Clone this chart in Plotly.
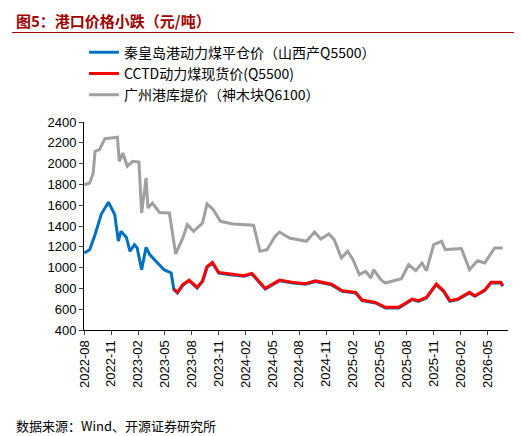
import pandas as pd
import plotly.graph_objects as go

# months since 2022-08-01, values in 元/吨
qhd_m = [0, 0.6, 1.2, 1.9, 2.7, 3.4, 3.8, 4.1, 4.7, 5.1, 5.6, 5.9, 6.4, 6.9, 7.3, 8.2, 8.9, 9.7,
         10, 10.4, 11, 11.7, 12.6, 13.2, 13.7, 14.3, 15, 16.3, 17.8, 18.7, 19.4, 20.2, 21.8, 23.3,
         24.7, 25.8, 27.6, 28.8, 30.3, 31, 32.5, 33.6, 35.1, 36.6, 37.3, 38.2, 39.3, 40.1, 40.8,
         41.7, 43, 43.6, 44.7, 45.4, 46.5, 46.7]
qhd_v = [1140, 1172, 1316, 1515, 1628, 1509, 1256, 1349, 1290, 1157, 1220, 1190, 980, 1195, 1125,
         1044, 980, 948, 788, 756, 830, 874, 804, 866, 1003, 1044, 948, 932, 916, 938, 866, 794,
         874, 852, 840, 866, 834, 772, 756, 682, 660, 612, 612, 692, 676, 708, 836, 772, 676, 692,
         756, 724, 778, 852, 852, 820]
cctd_start = 18  # CCTD series starts 2023-06
gz_m = [0, 0.6, 1, 1.2, 1.7, 2.3, 3, 3.7, 3.9, 4.3, 4.8, 5.4, 6.1, 6.4, 6.9, 7.1, 7.6, 8.4, 9.5,
        10.2, 11, 11.5, 12.2, 13.2, 13.7, 14.4, 15.2, 16.6, 18.9, 19.6, 20.4, 21.3, 21.8, 22.9, 24.8,
        25.7, 26.4, 27.3, 27.9, 28.7, 29.4, 30, 30.7, 31.4, 32, 32.3, 33.1, 33.6, 35.4, 36.2, 37,
        37.7, 38.2, 39, 39.9, 40.3, 42.1, 43, 43.9, 44.7, 45.8, 46.7]
gz_v = [1797, 1813, 1910, 2118, 2134, 2240, 2246, 2253, 2022, 2102, 1974, 2022, 2015, 1525, 1862,
        1573, 1621, 1530, 1525, 1131, 1285, 1413, 1349, 1429, 1612, 1557, 1445, 1420, 1407, 1157,
        1173, 1301, 1342, 1285, 1253, 1342, 1275, 1324, 1269, 1092, 1157, 1076, 932, 964, 900, 980,
        884, 852, 894, 1028, 970, 1044, 970, 1220, 1253, 1173, 1183, 980, 1066, 1044, 1189, 1189]
tick_labels = ["2022-08", "2022-11", "2023-02", "2023-05", "2023-08", "2023-11", "2024-02", "2024-05",
               "2024-08", "2024-11", "2025-02", "2025-05", "2025-08", "2025-11", "2026-02", "2026-05"]

base = pd.Timestamp("2022-08-01")
to_date = lambda ms: [base + pd.Timedelta(days=m * 30.44) for m in ms]
qhd_x = to_date(qhd_m)
gz_x = to_date(gz_m)

fig = go.Figure()
fig.add_trace(go.Scatter(x=qhd_x, y=qhd_v, mode="lines", name="秦皇岛港动力煤平仓价（山西产Q5500）",
                         line=dict(color="#0070C0", width=3)))
fig.add_trace(go.Scatter(x=qhd_x[cctd_start:], y=[v + 6 for v in qhd_v[cctd_start:]], mode="lines",
                         name="CCTD动力煤现货价(Q5500)", line=dict(color="#FF0000", width=3)))
fig.add_trace(go.Scatter(x=gz_x, y=gz_v, mode="lines", name="广州港库提价（神木块Q6100）",
                         line=dict(color="#A0A0A0", width=3)))

fig.add_shape(type="line", xref="paper", yref="paper", x0=-0.17, x1=1.05, y0=1.43, y1=1.43,
              line=dict(color="#A00000", width=1))
fig.add_annotation(text="<b>图5：港口价格小跌（元/吨）</b>", xref="paper", yref="paper", x=-0.165, y=1.49,
                   xanchor="left", yanchor="middle", showarrow=False,
                   font=dict(size=15, color="#A00000"))
fig.add_annotation(text="数据来源：Wind、开源证券研究所", xref="paper", yref="paper", x=-0.165, y=-0.46,
                   xanchor="left", yanchor="middle", showarrow=False, font=dict(size=13, color="#000"))

fig.update_layout(
    width=522, height=436,
    margin=dict(l=76, r=22, t=114, b=114),
    plot_bgcolor="white", paper_bgcolor="white",
    font=dict(family="Noto Sans CJK SC, Liberation Serif", size=12, color="#000"),
    showlegend=True,
    legend=dict(x=0.0, y=1.41, xanchor="left", yanchor="top", font=dict(size=14),
                bgcolor="rgba(0,0,0,0)", tracegroupgap=0),
    xaxis=dict(tickvals=to_date([3 * i for i in range(16)]), ticktext=tick_labels, tickangle=-90,
               range=[base - pd.Timedelta(days=1), base + pd.Timedelta(days=47.3 * 30.44)],
               showgrid=False, showline=True, linecolor="#000", ticks="outside", ticklen=4,
               tickfont=dict(family="Liberation Sans", size=13)),
    yaxis=dict(range=[400, 2400], dtick=200, showgrid=False, showline=True, linecolor="#000",
               ticks="outside", ticklen=4, tickfont=dict(family="Liberation Sans", size=13)),
)

fig.write_html("out.html")
